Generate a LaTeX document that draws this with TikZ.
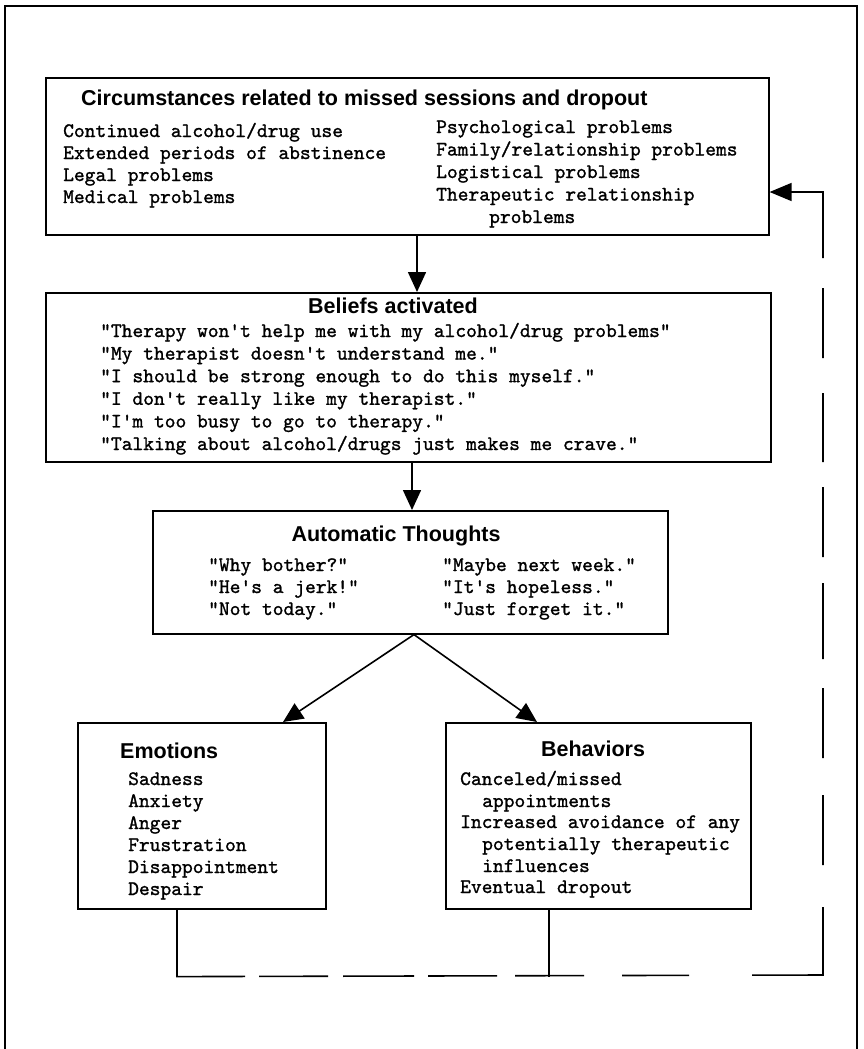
\documentclass[tikz,border=0pt]{standalone}
\usepackage{fontspec}
\setsansfont{Liberation Sans}
\newfontfamily\typewriter[FakeBold=1.2]{lmmono10-regular.otf}
\usetikzlibrary{arrows.meta,calc}
\begin{document}
\begin{tikzpicture}[x=1pt,y=-1pt,
  frame/.style={draw, line width=1.3pt},
  box/.style={draw, line width=1.6pt, inner sep=0pt, anchor=north west},
  title/.style={font=\sffamily\bfseries\fontsize{21.5}{24}\selectfont, inner sep=0pt, anchor=base},
  item/.style={font=\typewriter\fontsize{20.5}{22}\selectfont, inner sep=0pt, anchor=base west},
  link/.style={draw, line width=1.6pt},
  arr/.style={link, -{Triangle[length=20pt,width=18pt]}},
  loopback/.style={link, -{Triangle[length=22pt,width=18pt]},
    dash pattern=on 135pt off 14pt on 69pt off 15pt on 71pt off 14pt on 69pt off 18pt
      on 69pt off 38pt on 67pt off 63pt on 139pt off 42pt on 70pt off 37pt
      on 70pt off 29pt on 76pt off 26pt on 70pt off 25pt on 69pt off 35pt
      on 70pt off 30pt on 600pt}
]
\useasboundingbox (0,0) rectangle (863,1049);
\fill[white] (0,0) rectangle (863,1049);
\clip (0,0) rectangle (863,1049);
\draw[frame] (5,6) rectangle (857,1080);

% boxes
\node[box, minimum width=723pt, minimum height=157pt] (circ) at (45,77) {};
\node[box, minimum width=725pt, minimum height=169pt] (beliefs) at (45,292) {};
\node[box, minimum width=515pt, minimum height=123pt] (auto) at (152,510) {};
\node[box, minimum width=248pt, minimum height=186pt] (emo) at (77,722) {};
\node[box, minimum width=305pt, minimum height=186pt] (beh) at (445,722) {};

% circumstances
\node[title, anchor=base west] (circ-t) at (81,105) {Circumstances related to missed sessions and dropout};
\foreach \t [count=\i] in {Continued alcohol/drug use, Extended periods of abstinence, Legal problems, Medical problems}
  \node[item, name=circ-l\i] at (63,{137+22*(\i-1)}) {\t};
\foreach \t [count=\i] in {Psychological problems, Family/relationship problems, Logistical problems, Therapeutic relationship}
  \node[item, name=circ-r\i] at (436,{133+22.5*(\i-1)}) {\t};
\node[item] (circ-r5) at (489,223) {problems};

% beliefs
\node[title] (beliefs-t) at (393,313) {Beliefs activated};
\foreach \t [count=\i] in {"Therapy won't help me with my alcohol/drug problems",
  "My therapist doesn't understand me.",
  "I should be strong enough to do this myself.",
  "I don't really like my therapist.",
  "I'm too busy to go to therapy.",
  "Talking about alcohol/drugs just makes me crave."}
  \node[item, name=beliefs-l\i] at (100,{337+22.6*(\i-1)}) {\t};

% automatic thoughts
\node[title] (auto-t) at (396,541) {Automatic Thoughts};
\foreach \t [count=\i] in {"Why bother?", "He's a jerk!", "Not today."}
  \node[item, name=auto-l\i] at (208,{571+22*(\i-1)}) {\t};
\foreach \t [count=\i] in {"Maybe next week.", "It's hopeless.", "Just forget it."}
  \node[item, name=auto-r\i] at (442,{571+22*(\i-1)}) {\t};

% emotions
\node[title, anchor=base west] (emo-t) at (120,758) {Emotions};
\foreach \t [count=\i] in {Sadness, Anxiety, Anger, Frustration, Disappointment, Despair}
  \node[item, name=emo-l\i] at (128,{785+22*(\i-1)}) {\t};

% behaviors
\node[title] (beh-t) at (593,756) {Behaviors};
\node[item] (beh-l1) at (460,785) {Canceled/missed};
\node[item] (beh-l2) at (482,807) {appointments};
\node[item] (beh-l3) at (460,828) {Increased avoidance of any};
\node[item] (beh-l4) at (482,850) {potentially therapeutic};
\node[item] (beh-l5) at (482,872) {influences};
\node[item] (beh-l6) at (460,893) {Eventual dropout};

% forward links
\draw[arr] ([xshift=372pt]circ.south west) -- ([xshift=372pt]beliefs.north west);
\draw[arr] ([xshift=367pt]beliefs.south west) -- ([xshift=260pt]auto.north west);
\coordinate (split) at ([xshift=262pt]auto.south west);
\draw[arr] (split) -- ([xshift=206pt]emo.north west);
\draw[arr] (split) -- ([xshift=92pt]beh.north west);

% feedback loop back to the circumstances
\coordinate (emofoot) at ([xshift=100pt]emo.south west);
\coordinate (behfoot) at ([xshift=104pt]beh.south west);
\coordinate (loopL) at ($(emofoot)+(0,67)$);
\coordinate (loopR) at (823,975);
\coordinate (loopT) at (823,192);
\draw[link] (behfoot) -- (behfoot |- loopL);
\draw[loopback] (emofoot) -- (loopL) -- (loopR) -- (loopT) -- (circ.east |- loopT);
\end{tikzpicture}
\end{document}
